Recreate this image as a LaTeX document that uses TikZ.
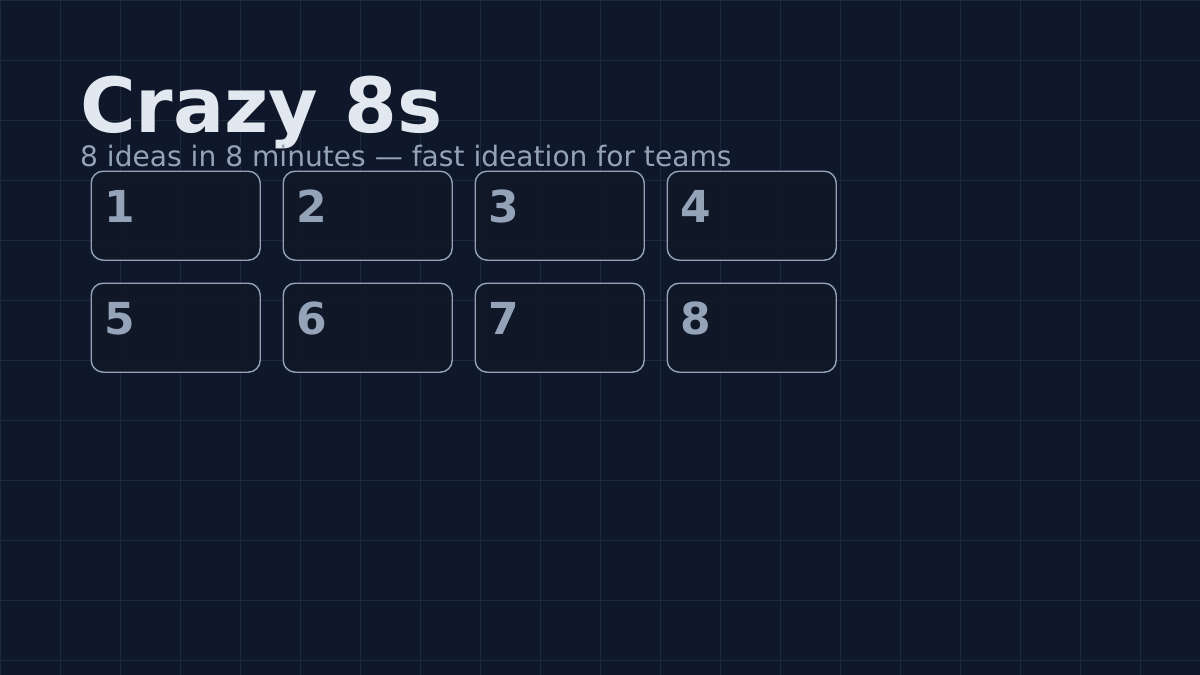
\documentclass[tikz,border=0pt]{standalone}
\usepackage{fontspec}
\setmainfont{DejaVu Sans}
\definecolor{bg}{HTML}{0F172A}
\definecolor{gridc}{HTML}{1E293B}
\definecolor{cardfill}{HTML}{111827}
\definecolor{cardline}{HTML}{94A3B8}
\definecolor{titlec}{HTML}{E2E8F0}
\definecolor{subc}{HTML}{94A3B8}
\begin{document}
\begin{tikzpicture}[x=1pt,y=-1pt,
  card/.style={draw=cardline, draw opacity=1, fill=cardfill, fill opacity=0.85, line width=1.4pt, rounded corners=12pt, minimum width=169pt, minimum height=89pt, inner sep=0pt, anchor=north west},
  numlabel/.style={text=subc, font=\bfseries\fontsize{44}{44}\selectfont, anchor=base west, inner sep=0pt},
  titlestyle/.style={text=titlec, font=\bfseries\fontsize{76}{76}\selectfont, anchor=base west, inner sep=0pt},
  substyle/.style={text=subc, font=\fontsize{28.1}{28.1}\selectfont, anchor=base west, inner sep=0pt}]
\useasboundingbox (0,0) rectangle (1200,675);
\fill[bg] (0,0) rectangle (1200,675);
\foreach \gx in {0,60,...,1200} \draw[gridc, line width=1pt] (\gx,0) -- (\gx,675);
\foreach \gy in {0,60,...,660} \draw[gridc, line width=1pt] (0,\gy) -- (1200,\gy);
\node[titlestyle] (title) at (80,132) {Crazy 8s};
\node[substyle] (subtitle) at (80,166) {8 ideas in 8 minutes — fast ideation for teams};
\foreach \i/\bx/\by in {1/90.5/170.5,2/282.5/170.5,3/474.5/170.5,4/666.5/170.5,5/90.5/282.5,6/282.5/282.5,7/474.5/282.5,8/666.5/282.5}{
  \node[card] (b\i) at (\bx,\by) {};
  \node[numlabel] (n\i) at ([xshift=13.5pt,yshift=-51.5pt]b\i.north west) {\i};
}
\end{tikzpicture}
\end{document}
